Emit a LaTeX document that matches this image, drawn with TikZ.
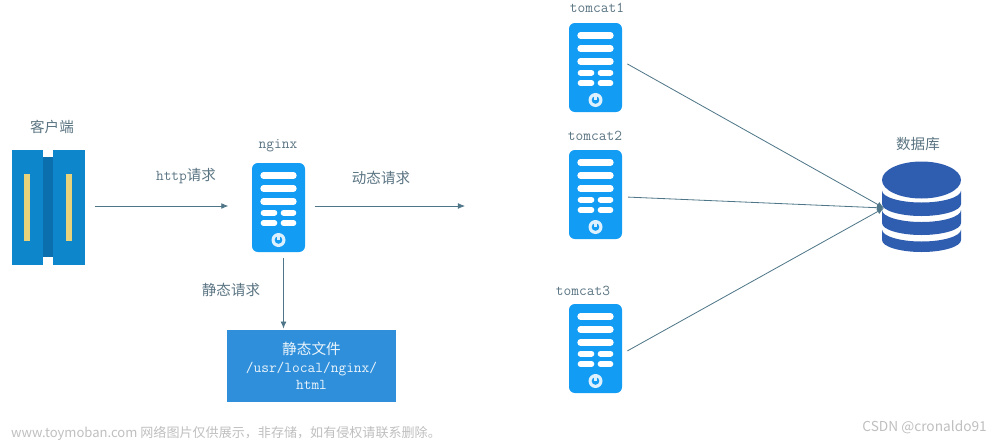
\documentclass[tikz,border=0pt]{standalone}
\usepackage{fontspec}
\setmainfont{Noto Sans CJK SC}
\usepackage{tikz}
\usetikzlibrary{arrows.meta}
\definecolor{srvblue}{HTML}{129CF3}
\definecolor{clientblue}{HTML}{0E86CC}
\definecolor{clientdark}{HTML}{0B6FAE}
\definecolor{clientbar}{HTML}{E8D27A}
\definecolor{filesblue}{HTML}{2F8FDB}
\definecolor{dbblue}{HTML}{2F5DB0}
\definecolor{linecol}{HTML}{4F7688}
\definecolor{labelcol}{HTML}{5A7482}
\tikzset{
	lbl/.style={text=labelcol,font=\fontsize{12.4}{14}\selectfont,inner sep=0pt},
	srvlbl/.style={text=labelcol,font=\fontsize{12.8}{14}\selectfont\ttfamily,inner sep=0pt},
	mark text/.style={text=black!25,inner sep=0pt},
	server/.style={fill=srvblue,rounded corners=5pt,minimum width=1.59cm,minimum height=2.67cm,inner sep=0pt},
	link/.style={draw=linecol,line width=0.7pt,-{Latex[length=6pt,width=5pt]}},
	serverparts/.pic={
		\draw[white,line width=5.4pt,line cap=round] (-15,-32) -- (15,-32) (-15,-19) -- (15,-19) (-15,-6) -- (15,-6);
		\draw[white,line width=4.8pt,line cap=round] (-15,5.2) -- (-4,5.2) (5,5.2) -- (15,5.2) (-15,15.5) -- (-4,15.5) (5,15.5) -- (15,15.5);
		\fill[white!85!srvblue] (0,32.5) circle[radius=7];
		\fill[srvblue] (0,32.5) circle[radius=3.8];
		\draw[white!85!srvblue,line width=1.8pt] (0,25.5) -- (0,32);
	},
}
\begin{document}
\begin{tikzpicture}[x=0.03cm,y=-0.03cm]
	\useasboundingbox (0,0) rectangle (1000,441);
	% client
	\node[minimum width=2.19cm,minimum height=3.45cm,inner sep=0pt] (client) at (48.5,207.5) {};
	\fill[clientdark] (43,157) rectangle (53,257);
	\fill[clientblue] (12,150) rectangle (43,265);
	\fill[clientblue] (53,150) rectangle (85,265);
	\fill[clientbar] (24,174) rectangle (30,241);
	\fill[clientbar] (66,174) rectangle (72,241);
	\node[lbl] (clientlbl) at (52,127) {客户端};
	% servers
	\node[server] (nginx) at (278.5,207.5) {};
	\pic at (nginx.center) {serverparts};
	\node[srvlbl] (nginxlbl) at (278,146) {nginx};
	\node[server] (tomcat1) at (595.5,67.5) {};
	\pic at (tomcat1.center) {serverparts};
	\node[srvlbl] (tomcat1lbl) at (597,8) {tomcat1};
	\node[server] (tomcat2) at (595.5,194.5) {};
	\pic at (tomcat2.center) {serverparts};
	\node[srvlbl] (tomcat2lbl) at (595,136) {tomcat2};
	\node[server] (tomcat3) at (595.5,348.5) {};
	\pic at (tomcat3.center) {serverparts};
	\node[srvlbl] (tomcat3lbl) at (583,291) {tomcat3};
	% static files
	\node[fill=filesblue,text=white!90!filesblue,minimum width=5.07cm,minimum height=2.16cm,inner sep=0pt,align=center,font=\fontsize{12.5}{15}\selectfont] (files) at (311.5,366) {静态文件\\{\ttfamily\fontsize{12.8}{15}\selectfont /usr/local/nginx/}\\{\ttfamily\fontsize{12.8}{15}\selectfont html}};
	% database
	\node[minimum width=2.37cm,minimum height=2.19cm,inner sep=0pt] (db) at (921.5,216) {};
	\foreach \top/\bot in {190.5/204,210/223,229.5/240}
		\fill[dbblue] (882,\top) arc[start angle=180,end angle=0,x radius=39.5,y radius=12] -- (961,\bot) arc[start angle=0,end angle=180,x radius=39.5,y radius=12] -- cycle;
	\fill[dbblue] (921.5,180) ellipse[x radius=39.5,y radius=18.5];
	\node[lbl] (dblbl) at (918,144.5) {数据库};
	\coordinate (dbin) at (884,208);
	\coordinate (dynend) at (465,206);
	% links
	\draw[link,shorten <=8pt,shorten >=20pt] (client.east |- 0,206) -- (nginx.west |- 0,206);
	\draw[link,shorten <=8pt] (nginx.east |- 0,206) -- (dynend);
	\draw[link,shorten <=5pt,shorten >=1pt] (nginx.south) ++(5,0) coordinate (nginxout) -- (nginxout |- files.north);
	\draw[link,shorten <=5pt] ([yshift=5.5pt]tomcat1.east) -- (dbin);
	\draw[link,shorten <=5pt] ([yshift=-2pt]tomcat2.east) -- (dbin);
	\draw[link,shorten <=5pt] ([yshift=-4.5pt]tomcat3.east) -- (dbin);
	\node[lbl] (httplbl) at (186,176) {{\ttfamily\fontsize{12.8}{14}\selectfont http}请求};
	\node[lbl] (dynlbl) at (381,178) {动态请求};
	\node[lbl] (staticlbl) at (231,290) {静态请求};
	% source marks
	\node[mark text,font=\fontsize{11.15}{13}\selectfont,anchor=west] (mark1) at (11,433.5) {www.toymoban.com 网络图片仅供展示，非存储，如有侵权请联系删除。};
	\node[mark text,font=\fontsize{11.7}{13}\selectfont,anchor=east] (mark2) at (987,427) {CSDN @cronaldo91};
\end{tikzpicture}
\end{document}
